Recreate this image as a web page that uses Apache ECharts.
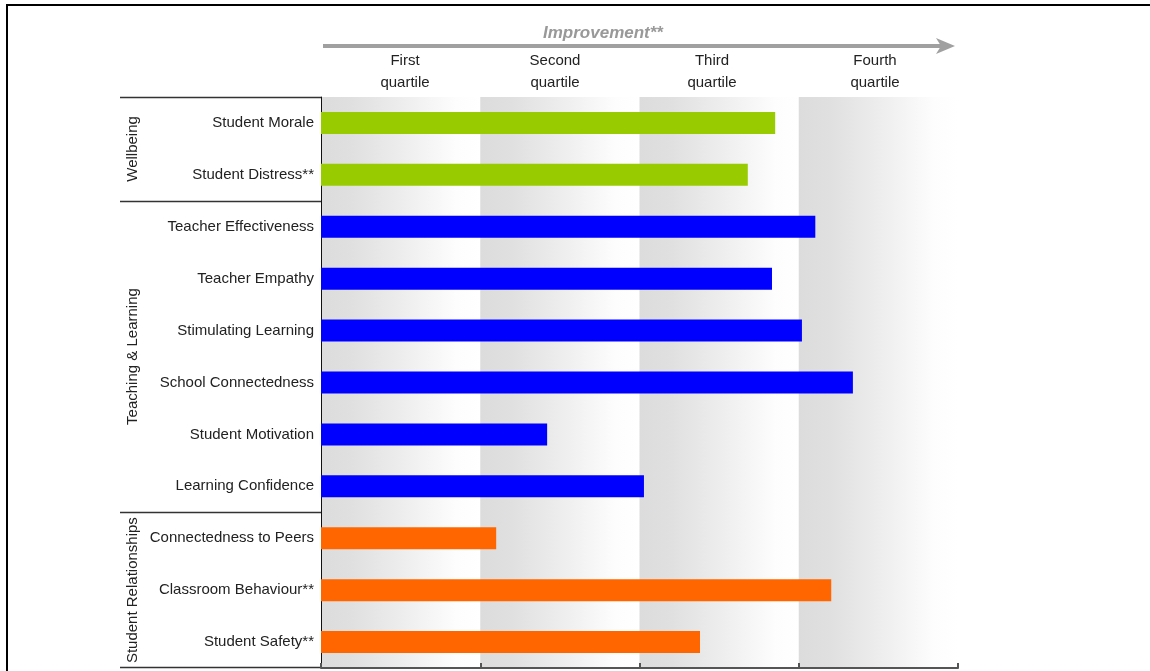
<!DOCTYPE html>
<html>
<head>
<meta charset="utf-8">
<script src="https://cdn.jsdelivr.net/npm/echarts@6/dist/echarts.min.js"></script>
<style>
  html, body { margin: 0; padding: 0; background: #fff; }
  #chart { width: 1150px; height: 671px; }
</style>
</head>
<body>
<div id="chart"></div>
<script>
// Measures, top to bottom, with percentile scores (0–100)
const categories = [
  'Student Morale', 'Student Distress**',
  'Teacher Effectiveness', 'Teacher Empathy', 'Stimulating Learning',
  'School Connectedness', 'Student Motivation', 'Learning Confidence',
  'Connectedness to Peers', 'Classroom Behaviour**', 'Student Safety**'
];
const scores = [71.3, 67.0, 77.6, 70.8, 75.5, 83.5, 35.5, 50.7, 27.5, 80.1, 59.5];
const groupOf = [0, 0, 1, 1, 1, 1, 1, 1, 2, 2, 2];
const groupNames = ['Wellbeing', 'Teaching & Learning', 'Student Relationships'];
const groupColors = ['#99cc00', '#0000ff', '#ff6600'];
const quartileLabels = ['First\nquartile', 'Second\nquartile', 'Third\nquartile', 'Fourth\nquartile'];
const quartileBounds = [0, 25, 50, 75, 100];

const chart = echarts.init(document.getElementById('chart'), null, { renderer: 'canvas' });

const G = { left: 321, right: 192, top: 97, bottom: 3 };
const FONT = '"Liberation Sans", Arial, sans-serif';

const bandFill = new echarts.graphic.LinearGradient(0, 0, 1, 0, [
  { offset: 0, color: '#dcdcdc' },
  { offset: 0.2, color: '#e0e0e0' },
  { offset: 0.55, color: '#efefef' },
  { offset: 0.85, color: '#fdfdfd' },
  { offset: 1, color: '#ffffff' }
]);

const bands = [];
for (let i = 0; i < 4; i++) {
  bands.push([{ xAxis: quartileBounds[i] }, { xAxis: quartileBounds[i + 1] }]);
}

chart.setOption({
  animation: false,
  backgroundColor: '#ffffff',
  grid: { left: G.left, right: G.right, top: G.top, bottom: G.bottom, containLabel: false },
  xAxis: {
    type: 'value', min: 0, max: 100, interval: 25,
    axisLine: { show: true, lineStyle: { color: '#555', width: 2 } },
    axisTick: { show: true, inside: true, length: 5, lineStyle: { color: '#555', width: 2 } },
    axisLabel: { show: false },
    splitLine: { show: false }
  },
  yAxis: {
    type: 'category', data: categories, inverse: true,
    axisLine: { show: true, lineStyle: { color: '#111', width: 1 } },
    axisTick: { show: false },
    axisLabel: { fontFamily: FONT, fontSize: 15, color: '#222', margin: 7 }
  },
  series: [{
    type: 'bar',
    barWidth: 22,
    data: scores.map((v, i) => ({
      value: v,
      itemStyle: { color: groupColors[groupOf[i]] }
    })),
    markArea: {
      silent: true,
      z: -1,
      itemStyle: { color: bandFill },
      data: bands
    },
    z: 3
  }]
});

// Decorations positioned from the chart's own scales
function drawDecor() {
  const yTop = G.top;
  const yBot = 671 - G.bottom;
  const rowH = (yBot - yTop) / categories.length;
  const elements = [];

  // outer frame (top and left edges)
  elements.push({ type: 'line', shape: { x1: 6, y1: 5, x2: 1150, y2: 5 }, style: { stroke: '#000', lineWidth: 2 } });
  elements.push({ type: 'line', shape: { x1: 7, y1: 5, x2: 7, y2: 671 }, style: { stroke: '#000', lineWidth: 2 } });

  // Improvement arrow
  const x0 = chart.convertToPixel({ gridIndex: 0 }, [0, 0])[0];
  const x100 = chart.convertToPixel({ gridIndex: 0 }, [100, 0])[0];
  elements.push({ type: 'line', shape: { x1: x0 + 2, y1: 46, x2: x100 - 15, y2: 46 }, style: { stroke: '#a0a0a0', lineWidth: 4 } });
  elements.push({ type: 'polygon', shape: { points: [[x100 - 22, 38], [x100 - 3, 46], [x100 - 22, 54], [x100 - 17, 46]] }, style: { fill: '#a0a0a0' } });
  elements.push({
    type: 'text', x: 603, y: 33,
    style: { text: 'Improvement**', fontFamily: FONT, fontSize: 17, fontStyle: 'italic', fontWeight: 'bold', fill: '#999', align: 'center', verticalAlign: 'middle' }
  });

  // quartile headings
  const headX = [405, 555, 712, 875];
  quartileLabels.forEach((t, i) => {
    elements.push({
      type: 'text', x: headX[i], y: 72,
      style: { text: t, fontFamily: FONT, fontSize: 15, lineHeight: 22, fill: '#222', align: 'center', verticalAlign: 'middle' }
    });
  });

  // group separators and rotated group names
  let start = 0;
  groupNames.forEach((name, g) => {
    let end = start;
    while (end < groupOf.length && groupOf[end] === g) end++;
    const ya = yTop + start * rowH;
    const yb = yTop + end * rowH;
    elements.push({ type: 'line', shape: { x1: 120, y1: Math.round(ya) + 0.5, x2: x0, y2: Math.round(ya) + 0.5 }, style: { stroke: '#333', lineWidth: 1.5 } });
    elements.push({
      type: 'text', x: 133, y: (ya + yb) / 2, rotation: Math.PI / 2,
      style: { text: name, fontFamily: FONT, fontSize: 15, fill: '#222', align: 'center', verticalAlign: 'middle' }
    });
    start = end;
  });
  elements.push({ type: 'line', shape: { x1: 120, y1: yBot - 0.5, x2: x0, y2: yBot - 0.5 }, style: { stroke: '#333', lineWidth: 1.5 } });

  chart.setOption({ graphic: { elements: elements } });
}
drawDecor();
</script>
</body>
</html>
